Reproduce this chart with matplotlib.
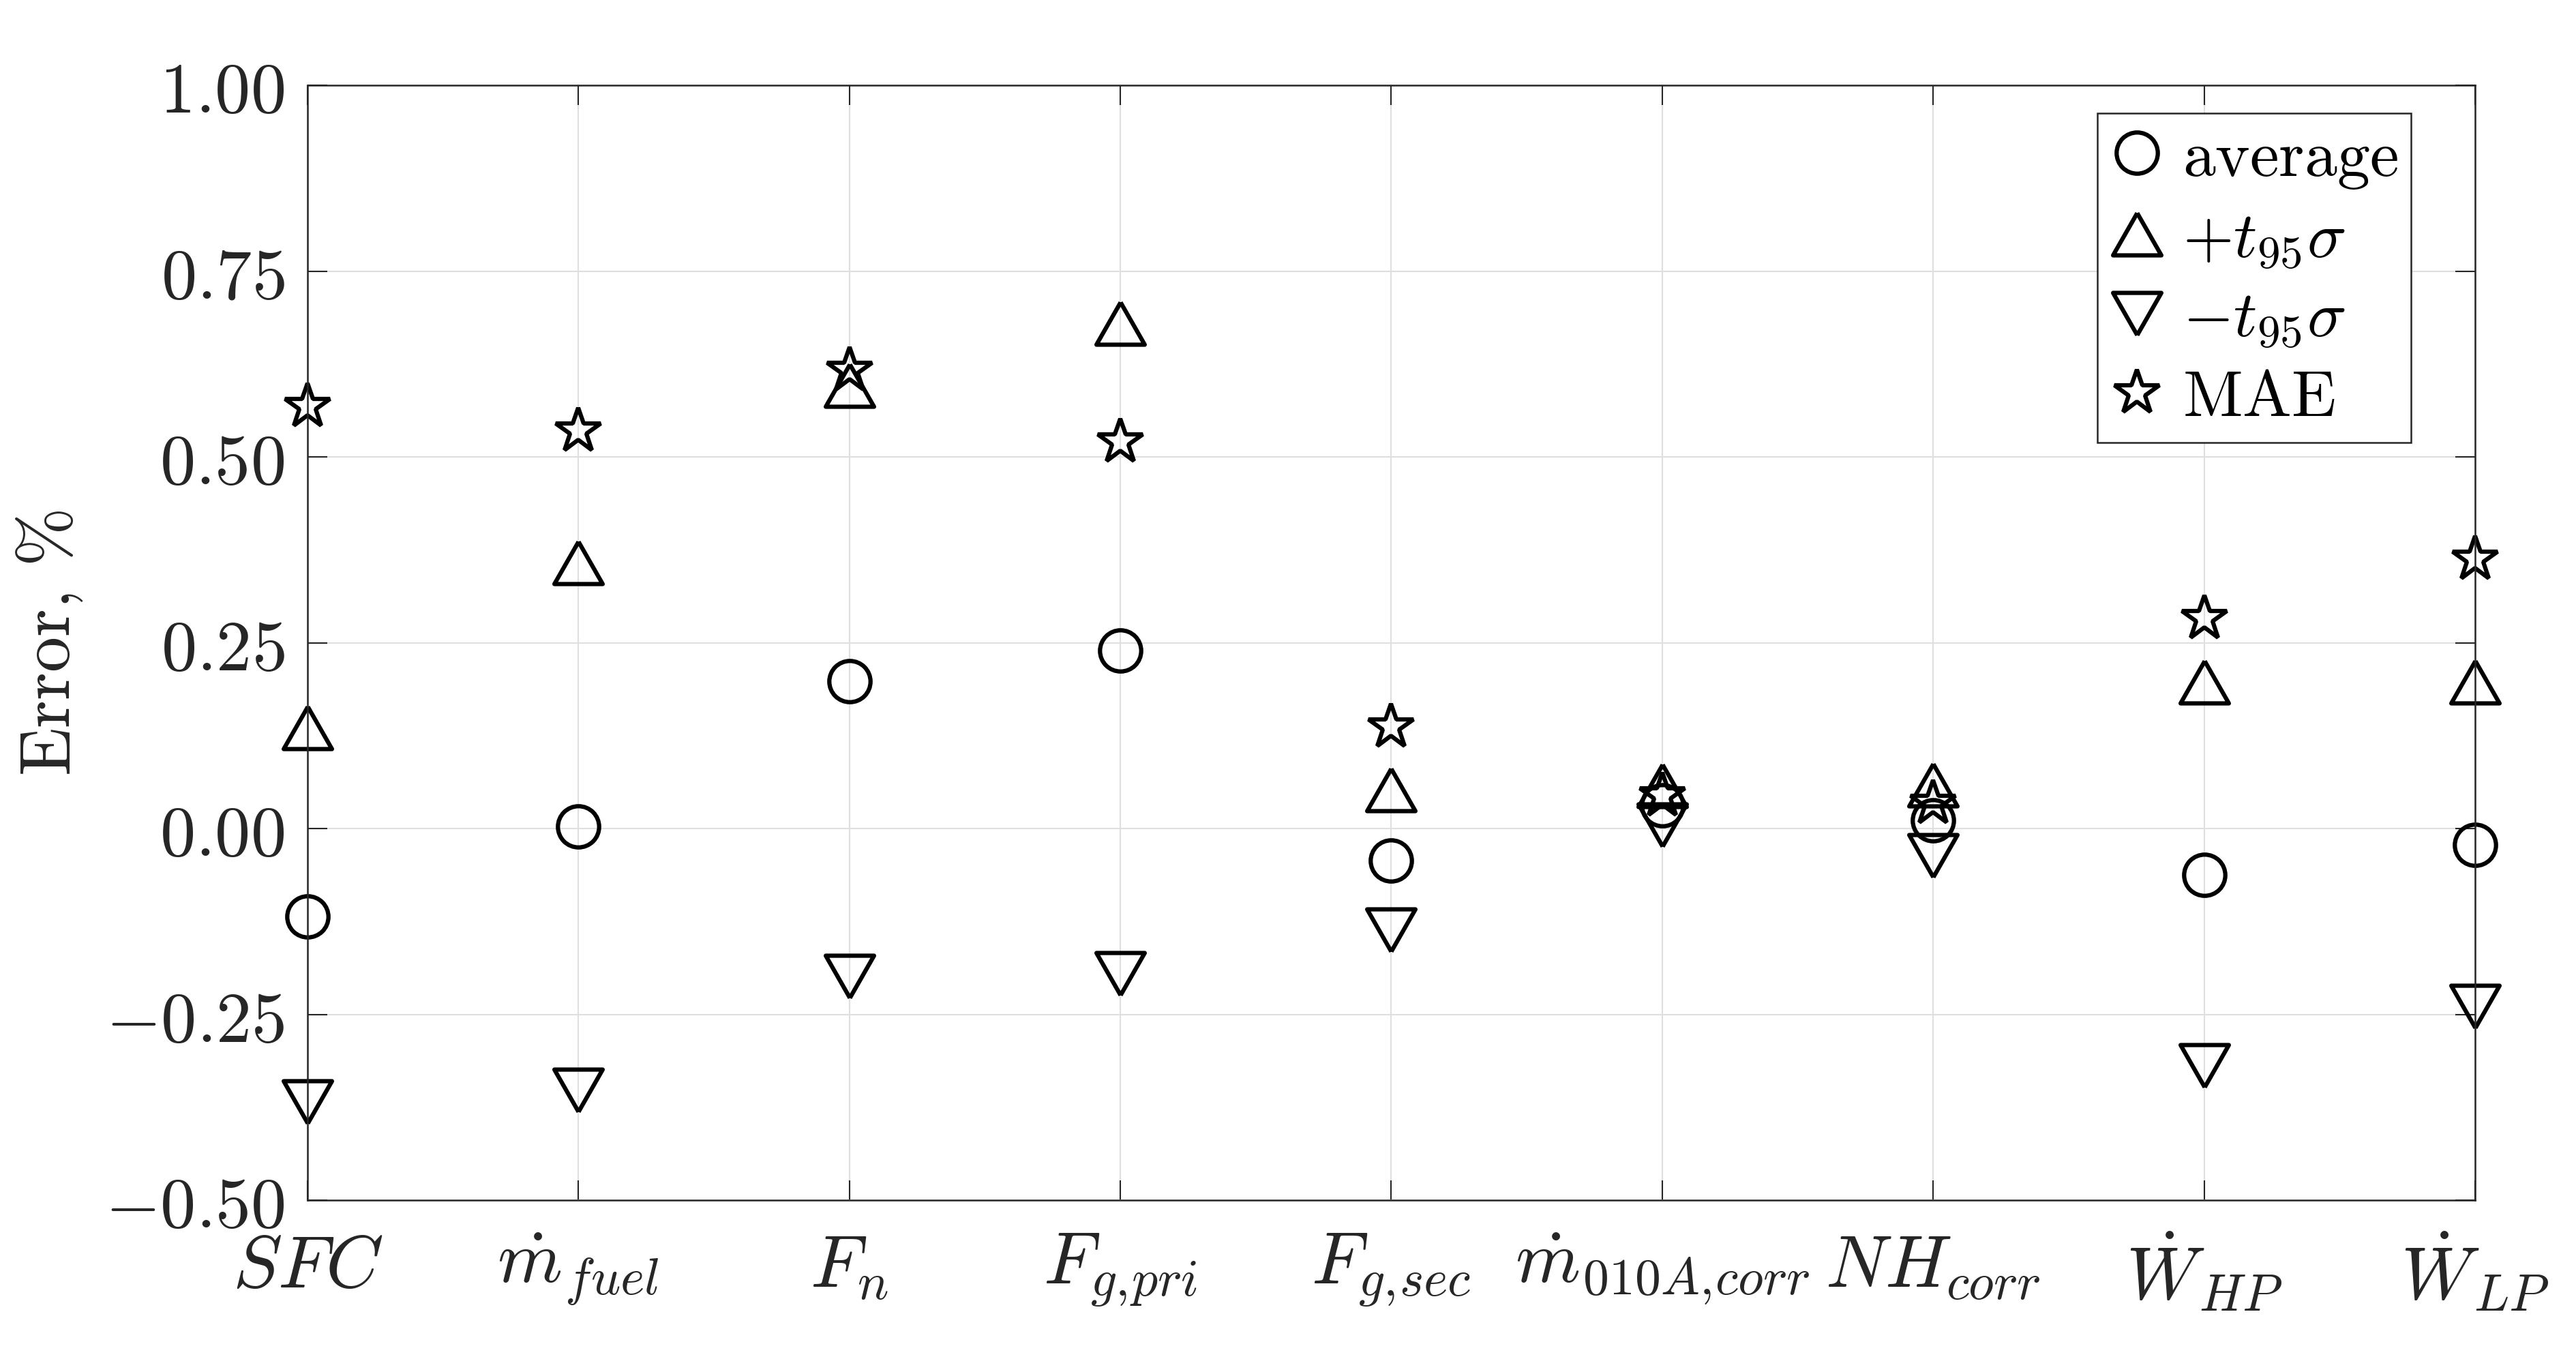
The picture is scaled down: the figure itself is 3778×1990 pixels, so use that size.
import matplotlib
matplotlib.use("Agg")
import matplotlib.pyplot as plt
import numpy as np
from matplotlib.ticker import FixedLocator, FuncFormatter

plt.rcParams["mathtext.fontset"] = "cm"
plt.rcParams["font.family"] = ["DejaVu Serif"]

# data (error in %)
labels = [r"$SFC$", r"$\dot{m}_{fuel}$", r"$F_n$", r"$F_{g,\!pri}$", r"$F_{g,\!sec}$",
          r"$\dot{m}_{010A,\!corr}$", r"$NH_{corr}$", r"$\dot{W}_{HP}$", r"$\dot{W}_{LP}$"]
average = [-0.118, 0.003, 0.198, 0.240, -0.043, 0.031, 0.011, -0.062, -0.022]
upper = [0.136, 0.358, 0.597, 0.680, 0.052, 0.058, 0.059, 0.197, 0.197]
lower = [-0.368, -0.352, -0.199, -0.195, -0.137, 0.005, -0.037, -0.319, -0.239]
mae = [0.568, 0.535, 0.617, 0.520, 0.137, 0.044, 0.034, 0.283, 0.363]

yticks = [-0.50, -0.25, 0.00, 0.25, 0.50, 0.75, 1.00]

x = np.arange(1, len(labels) + 1)

# MATLAB-like wider triangles
tri_up = [(0, 0.875), (-1, -0.875), (1, -0.875), (0, 0.875)]
tri_dn = [(0, -0.875), (-1, 0.875), (1, 0.875), (0, -0.875)]

fig = plt.figure(figsize=(3779 / 300, 1990 / 300), dpi=300)
ax = fig.add_axes([0.1193, 0.1156, 0.8413, 0.8214])

mkw = dict(linestyle="none", markerfacecolor="none", markeredgecolor="black",
           markeredgewidth=1.5, clip_on=False)
ax.plot(x, average, marker="o", markersize=14.5, label=r"$\mathrm{average}$", **mkw)
ax.plot(x, upper, marker=tri_up, markersize=17, label=r"$+t_{95}\sigma$", **mkw)
ax.plot(x, lower, marker=tri_dn, markersize=17, label=r"$-t_{95}\sigma$", **mkw)
ax.plot(x, mae, marker="*", markersize=16.5, label=r"$\mathrm{MAE}$", **mkw)

ax.set_xlim(1, len(labels))
ax.set_ylim(-0.5, 1.0)
ax.set_xticks(x)
ax.set_xticklabels(labels)
ax.yaxis.set_major_locator(FixedLocator(yticks))
ax.yaxis.set_major_formatter(FuncFormatter(lambda v, p: "$%.2f$" % v))

ax.grid(True, color="#dfdfdf", linewidth=0.5)
ax.set_axisbelow(True)
for s in ax.spines.values():
    s.set_color("#262626")
    s.set_linewidth(0.6)
ax.tick_params(axis="both", direction="in", top=True, right=True, length=7,
               width=0.5, color="#262626", labelcolor="#262626")
ax.tick_params(axis="y", labelsize=25, pad=8)
ax.tick_params(axis="x", labelsize=26, pad=11)

ax.set_ylabel(r"$\mathrm{Error,\,\%}$", fontsize=25, color="#262626", labelpad=7)

leg = ax.legend(loc="upper right", bbox_to_anchor=(0.9704, 0.975), fontsize=23,
                frameon=True, fancybox=False, edgecolor="#262626", framealpha=1,
                handlelength=0.8, handletextpad=0.3, borderpad=0.2,
                labelspacing=0.25, borderaxespad=0)
leg.get_frame().set_linewidth(0.6)

fig.savefig("out.png", dpi=300, facecolor="white")
